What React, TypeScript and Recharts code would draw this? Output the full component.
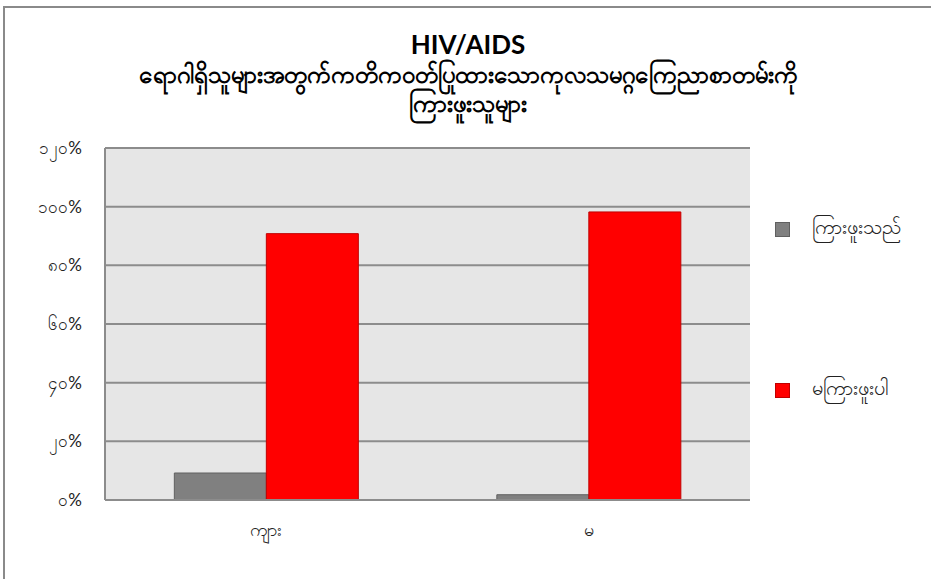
import { BarChart, Bar, XAxis, YAxis, CartesianGrid } from 'recharts';

const categories = ['ကျား', 'မ'];
const heardValues = [9.2, 1.8];
const notHeardValues = [90.8, 98.2];
const yTicks = [0, 20, 40, 60, 80, 100, 120];
const yTickLabels = ['၀%', '၂၀%', '၄၀%', '၆၀%', '၈၀%', '၁၀၀%', '၁၂၀%'];
const seriesNames = ['ကြားဖူးသည်', 'မကြားဖူးပါ'];
const titleLines = [
  'HIV/AIDS',
  'ရောဂါရှိသူများအတွက်ကတိကဝတ်ပြုထားသောကုလသမဂ္ဂကြေညာစာတမ်းကို',
  'ကြားဖူးသူများ',
];

const chartData = categories.map((c, i) => ({
  name: c,
  heard: heardValues[i],
  notHeard: notHeardValues[i],
}));

const FONT = 'Lato, "Noto Sans", sans-serif';

function LegendBox() {
  const items = [
    { label: seriesNames[0], fill: '#808080', stroke: '#606060' },
    { label: seriesNames[1], fill: '#ff0000', stroke: '#c00000' },
  ];
  return (
    <div style={{ position: 'absolute', left: 775, top: 214, width: 156, fontFamily: FONT, fontSize: 20, color: '#222' }}>
      {items.map((it, i) => (
        <div
          key={it.label}
          style={{ display: 'flex', alignItems: 'center', height: 30, marginBottom: i === 0 ? 131 : 0 }}
        >
          <span
            style={{
              display: 'inline-block',
              width: 13,
              height: 13,
              background: it.fill,
              border: `1px solid ${it.stroke}`,
              marginRight: 22,
              flexShrink: 0,
            }}
          />
          <span style={{ whiteSpace: 'nowrap' }}>{it.label}</span>
        </div>
      ))}
    </div>
  );
}

export default function App() {
  return (
    <div style={{ position: 'absolute', left: 0, top: 0, width: 931, height: 579, background: '#fff', overflow: 'hidden' }}>
      <div
        style={{
          position: 'absolute',
          left: 3,
          top: 6,
          width: 960,
          height: 600,
          border: '2px solid #8a8a8a',
          boxSizing: 'border-box',
        }}
      />
      <div
        style={{
          position: 'absolute',
          left: 0,
          top: 29,
          width: 936,
          textAlign: 'center',
          fontFamily: FONT,
          fontWeight: 700,
          color: '#000',
        }}
      >
        <div style={{ fontSize: 26, lineHeight: '30px' }}>{titleLines[0]}</div>
        <div style={{ fontSize: 24, lineHeight: '29px', whiteSpace: 'nowrap' }}>{titleLines[1]}</div>
        <div style={{ fontSize: 24, lineHeight: '29px' }}>{titleLines[2]}</div>
      </div>
      <BarChart
        width={931}
        height={579}
        data={chartData}
        margin={{ top: 148, right: 181, bottom: 49, left: 45 }}
        barGap={0}
        barCategoryGap="21.5%"
        style={{ position: 'absolute', left: 0, top: 0 }}
      >
        <CartesianGrid vertical={false} stroke="#8c8c8c" strokeWidth={2} fill="#e6e6e6" fillOpacity={1} />
        <XAxis
          dataKey="name"
          height={30}
          tickSize={0}
          tickMargin={23}
          axisLine={{ stroke: '#8c8c8c', strokeWidth: 2 }}
          tick={{ fill: '#222', fontSize: 18, fontFamily: FONT }}
        />
        <YAxis
          width={60}
          domain={[0, 120]}
          ticks={yTicks}
          interval={0}
          tickSize={0}
          tickMargin={23}
          axisLine={{ stroke: '#8c8c8c', strokeWidth: 2 }}
          tickFormatter={(v: number) => yTickLabels[yTicks.indexOf(v)]}
          tick={{ fill: '#222', fontSize: 17, fontFamily: FONT }}
        />
        <Bar dataKey="heard" name={seriesNames[0]} fill="#808080" stroke="#606060" strokeWidth={1} isAnimationActive={false} />
        <Bar dataKey="notHeard" name={seriesNames[1]} fill="#ff0000" stroke="#c00000" strokeWidth={1} isAnimationActive={false} />
      </BarChart>
      <LegendBox />
    </div>
  );
}
